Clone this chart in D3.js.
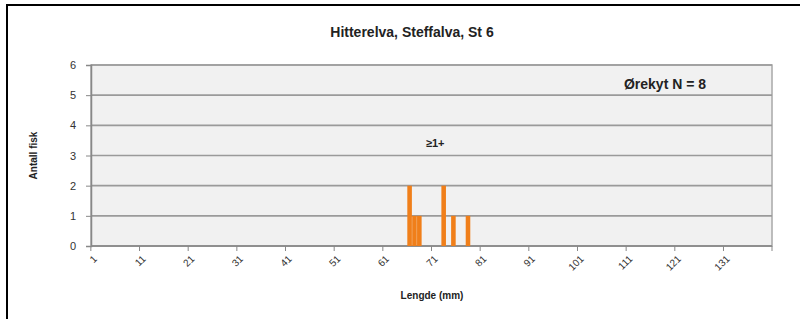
<!DOCTYPE html>
<html>
<head>
<meta charset="utf-8">
<script src="https://cdn.jsdelivr.net/npm/d3@7"></script>
<style>
  body { margin: 0; background: #fff; }
  text { font-family: "Liberation Sans", Arial, sans-serif; }
</style>
</head>
<body>
<div id="chart"></div>
<script>
// Chart data
var title = "Hitterelva, Steffalva, St 6";
var seriesLabel = "Ørekyt N = 8";
var ageLabel = "≥1+";
var lengthCategories = d3.range(1, 141);          // length classes (mm) on the x axis
var barLengths = [66, 67, 68, 73, 75, 78];        // lengths with fish
var barCounts  = [2, 1, 1, 2, 1, 1];              // number of fish per length
var xTickLabels = [1, 11, 21, 31, 41, 51, 61, 71, 81, 91, 101, 111, 121, 131];
var yTickValues = [0, 1, 2, 3, 4, 5, 6];

var width = 800,
    height = 319;

var margin = { left: 91, right: 28, top: 65, bottom: 73 };

var svg = d3.select("#chart").append("svg")
    .attr("width", width)
    .attr("height", height);

// outer frame (only left and top edges are visible in the picture)
svg.append("rect")
    .attr("x", 7).attr("y", 5)
    .attr("width", 820).attr("height", 340)
    .attr("fill", "none")
    .attr("stroke", "#000")
    .attr("stroke-width", 2);

var x = d3.scaleBand()
    .domain(lengthCategories)
    .range([margin.left, width - margin.right])
    .paddingInner(0.06);

var y = d3.scaleLinear()
    .domain([0, 6])
    .range([height - margin.bottom, margin.top]);

// plot background
svg.append("rect")
    .attr("x", margin.left)
    .attr("y", margin.top)
    .attr("width", width - margin.left - margin.right)
    .attr("height", height - margin.top - margin.bottom)
    .attr("fill", "#f1f1f1")
    .attr("stroke", "#a8a8a8")
    .attr("stroke-width", 1.5);

// horizontal gridlines
svg.append("g")
    .selectAll("line")
    .data(yTickValues)
    .enter().append("line")
    .attr("x1", margin.left)
    .attr("x2", width - margin.right)
    .attr("y1", function(d) { return y(d); })
    .attr("y2", function(d) { return y(d); })
    .attr("stroke", "#9a9a9a")
    .attr("stroke-width", 1.6);

// y axis
var yAxis = svg.append("g")
    .attr("transform", "translate(" + margin.left + ",0)")
    .call(d3.axisLeft(y).tickValues(yTickValues).tickFormat(d3.format("d"))
        .tickSize(5).tickPadding(10));
yAxis.select(".domain").attr("stroke", "#888").attr("stroke-width", 1.5);
yAxis.selectAll(".tick line").attr("stroke", "#888");
yAxis.selectAll("text")
    .attr("font-size", "11px")
    .attr("fill", "#333")
    .attr("font-family", "Liberation Sans, Arial, sans-serif");

// x axis ticks between categories, every 10 classes
var step = x.step();
var bandLeft = function(v) { return x(v) - step * x.paddingInner() / 2; };
var xAxis = svg.append("g");
xAxis.append("line")
    .attr("x1", margin.left).attr("x2", width - margin.right)
    .attr("y1", y(0)).attr("y2", y(0))
    .attr("stroke", "#888").attr("stroke-width", 1.5);
xAxis.selectAll(".xtick")
    .data(xTickLabels.concat([141]))
    .enter().append("line")
    .attr("class", "xtick")
    .attr("x1", function(d) { return d === 141 ? width - margin.right : bandLeft(d); })
    .attr("x2", function(d) { return d === 141 ? width - margin.right : bandLeft(d); })
    .attr("y1", y(0)).attr("y2", y(0) + 5)
    .attr("stroke", "#888");
xAxis.selectAll(".xlabel")
    .data(xTickLabels)
    .enter().append("text")
    .attr("class", "xlabel")
    .attr("transform", function(d) {
        return "translate(" + (x(d) + x.bandwidth() / 2 + 2) + "," + (y(0) + 11) + ") rotate(-45)";
    })
    .attr("text-anchor", "end")
    .attr("dy", "0.35em")
    .attr("font-size", "10px")
    .attr("fill", "#333")
    .text(function(d) { return d; });

// bars
svg.append("g")
    .selectAll("rect")
    .data(barLengths)
    .enter().append("rect")
    .attr("x", function(d) { return x(d); })
    .attr("width", x.bandwidth())
    .attr("y", function(d, i) { return y(barCounts[i]); })
    .attr("height", function(d, i) { return y(0) - y(barCounts[i]); })
    .attr("fill", "#f07f1a");

// texts
svg.append("text")
    .attr("x", 412).attr("y", 37)
    .attr("text-anchor", "middle")
    .attr("font-size", "14px")
    .attr("font-weight", "bold")
    .attr("fill", "#222")
    .text(title);

svg.append("text")
    .attr("x", 665).attr("y", 89)
    .attr("text-anchor", "middle")
    .attr("font-size", "14px")
    .attr("font-weight", "bold")
    .attr("fill", "#222")
    .text(seriesLabel);

svg.append("text")
    .attr("x", (x(73) + x(68)) / 2 + 6).attr("y", 147)
    .attr("text-anchor", "middle")
    .attr("font-size", "11px")
    .attr("font-weight", "bold")
    .attr("fill", "#222")
    .text(ageLabel);

svg.append("text")
    .attr("transform", "translate(37," + y(3) + ") rotate(-90)")
    .attr("text-anchor", "middle")
    .attr("font-size", "10px")
    .attr("font-weight", "bold")
    .attr("fill", "#222")
    .text("Antall fisk");

svg.append("text")
    .attr("x", 432).attr("y", 299)
    .attr("text-anchor", "middle")
    .attr("font-size", "10px")
    .attr("font-weight", "bold")
    .attr("fill", "#222")
    .text("Lengde (mm)");
</script>
</body>
</html>
